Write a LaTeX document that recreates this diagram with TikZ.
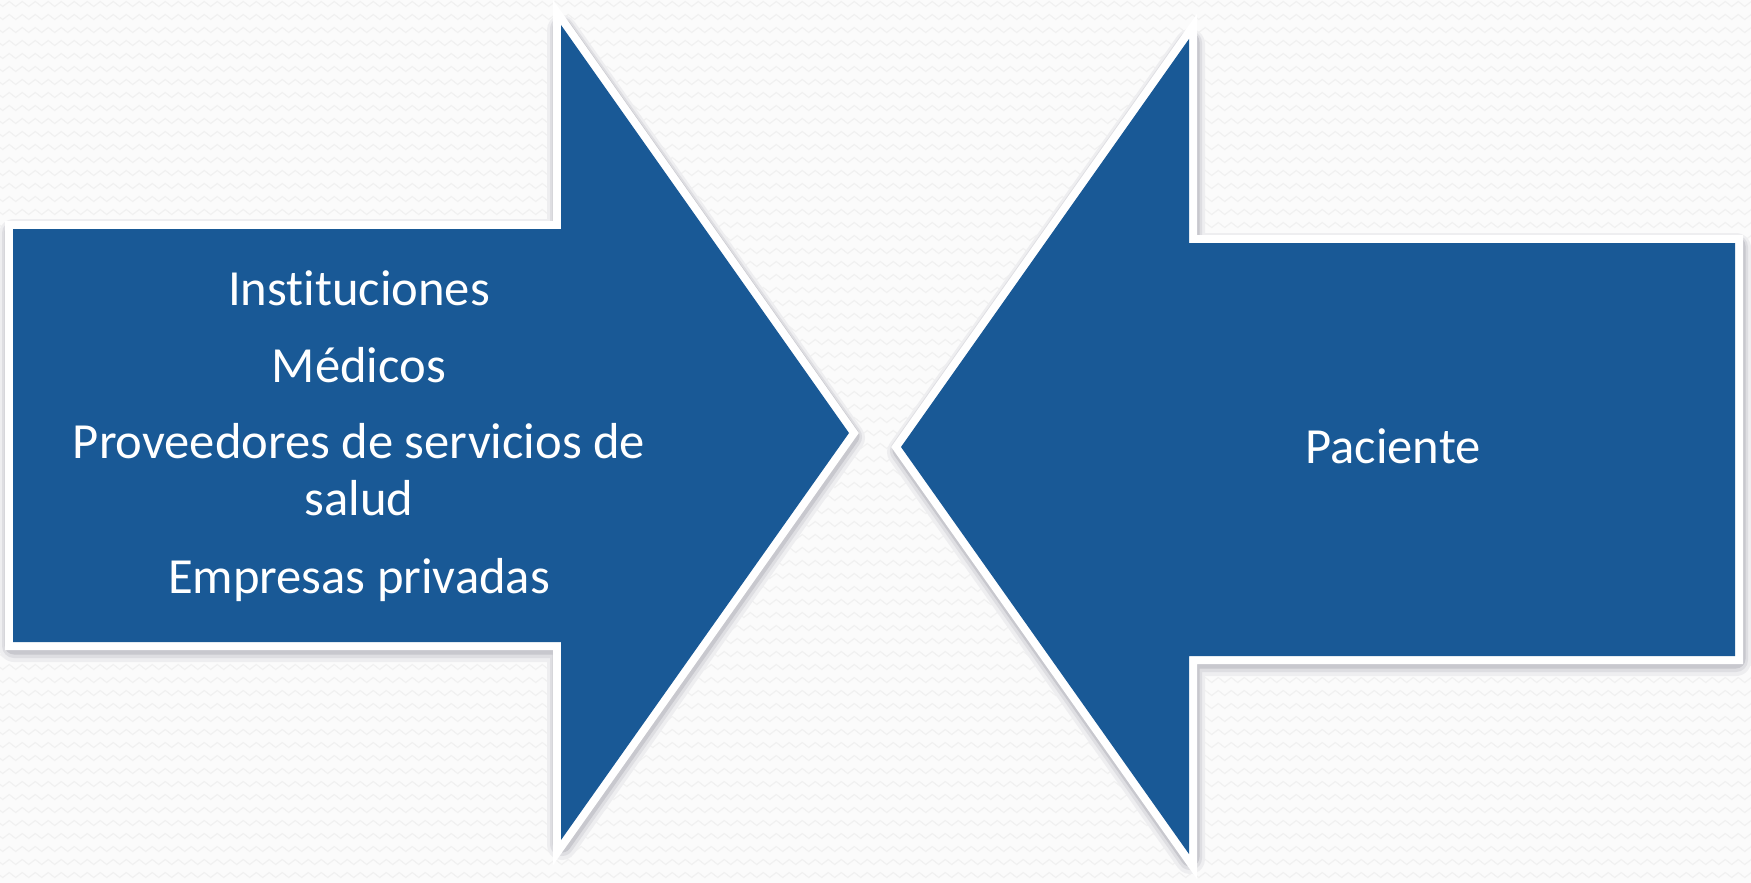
\documentclass[tikz,border=0pt]{standalone}
\usepackage{fontspec}
\setmainfont[Ligatures=NoCommon]{Carlito}
\usetikzlibrary{decorations.pathmorphing}
\definecolor{arrowblue}{RGB}{25,89,150}
\definecolor{bgbase}{RGB}{251,251,251}
\definecolor{bgwave}{RGB}{241,241,241}
\definecolor{shadeA}{RGB}{238,238,240}
\definecolor{shadeB}{RGB}{222,222,226}
\definecolor{shadeC}{RGB}{200,200,206}
\tikzset{
  leftshape/.style={insert path={(13,229) -- (561,229) -- (561,25) -- (849,433) -- (561,840) -- (561,642) -- (13,642) -- cycle}},
  rightshape/.style={insert path={(1735,243) -- (1189,243) -- (1189,39) -- (901,447) -- (1189,854) -- (1189,656) -- (1735,656) -- cycle}},
  shadowlayer/.style={line join=round},
  arrowrim/.style={draw=white, fill=white, line width=16pt, line join=miter, miter limit=10},
  arrowbody/.style={fill=arrowblue},
  itemtext/.style={text=white, font=\fontsize{50.6}{60}\selectfont, inner sep=0pt, anchor=base},
  bgline/.style={draw=bgwave, line width=1.2pt, decorate, decoration={zigzag, segment length=13pt, amplitude=2.5pt}}
}
\begin{document}
\begin{tikzpicture}[x=1pt,y=-1pt]
\useasboundingbox (0,0) rectangle (1751,883);
\fill[bgbase] (0,0) rectangle (1751,883);
\begin{scope}
  \clip (0,0) rectangle (1751,883);
  \foreach \r in {0,...,68} {
    \path[bgline] (-20,\r*13+4) -- (1780,\r*13+4);
  }
\end{scope}
% shadows, rims and bodies
\foreach \shp in {leftshape,rightshape} {
  \filldraw[shadowlayer, draw=shadeA, fill=shadeA, line width=30pt, shift={(1,5)}, \shp];
  \filldraw[shadowlayer, draw=shadeB, fill=shadeB, line width=24pt, shift={(1,4)}, \shp];
  \filldraw[shadowlayer, draw=shadeC, fill=shadeC, line width=19pt, shift={(1,3)}, \shp];
  \path[arrowrim, \shp];
  \path[arrowbody, \shp];
}
\node[itemtext] (inst) at (359,305) {Instituciones};
\node[itemtext] (med) at (359,382) {Médicos};
\node[itemtext] (prov) at (359,458) {Proveedores de servicios de};
\node[itemtext] (salud) at (359,515) {salud};
\node[itemtext] (emp) at (359,593) {Empresas privadas};
\node[itemtext] (pac) at (1393,463) {Paciente};
\end{tikzpicture}
\end{document}
